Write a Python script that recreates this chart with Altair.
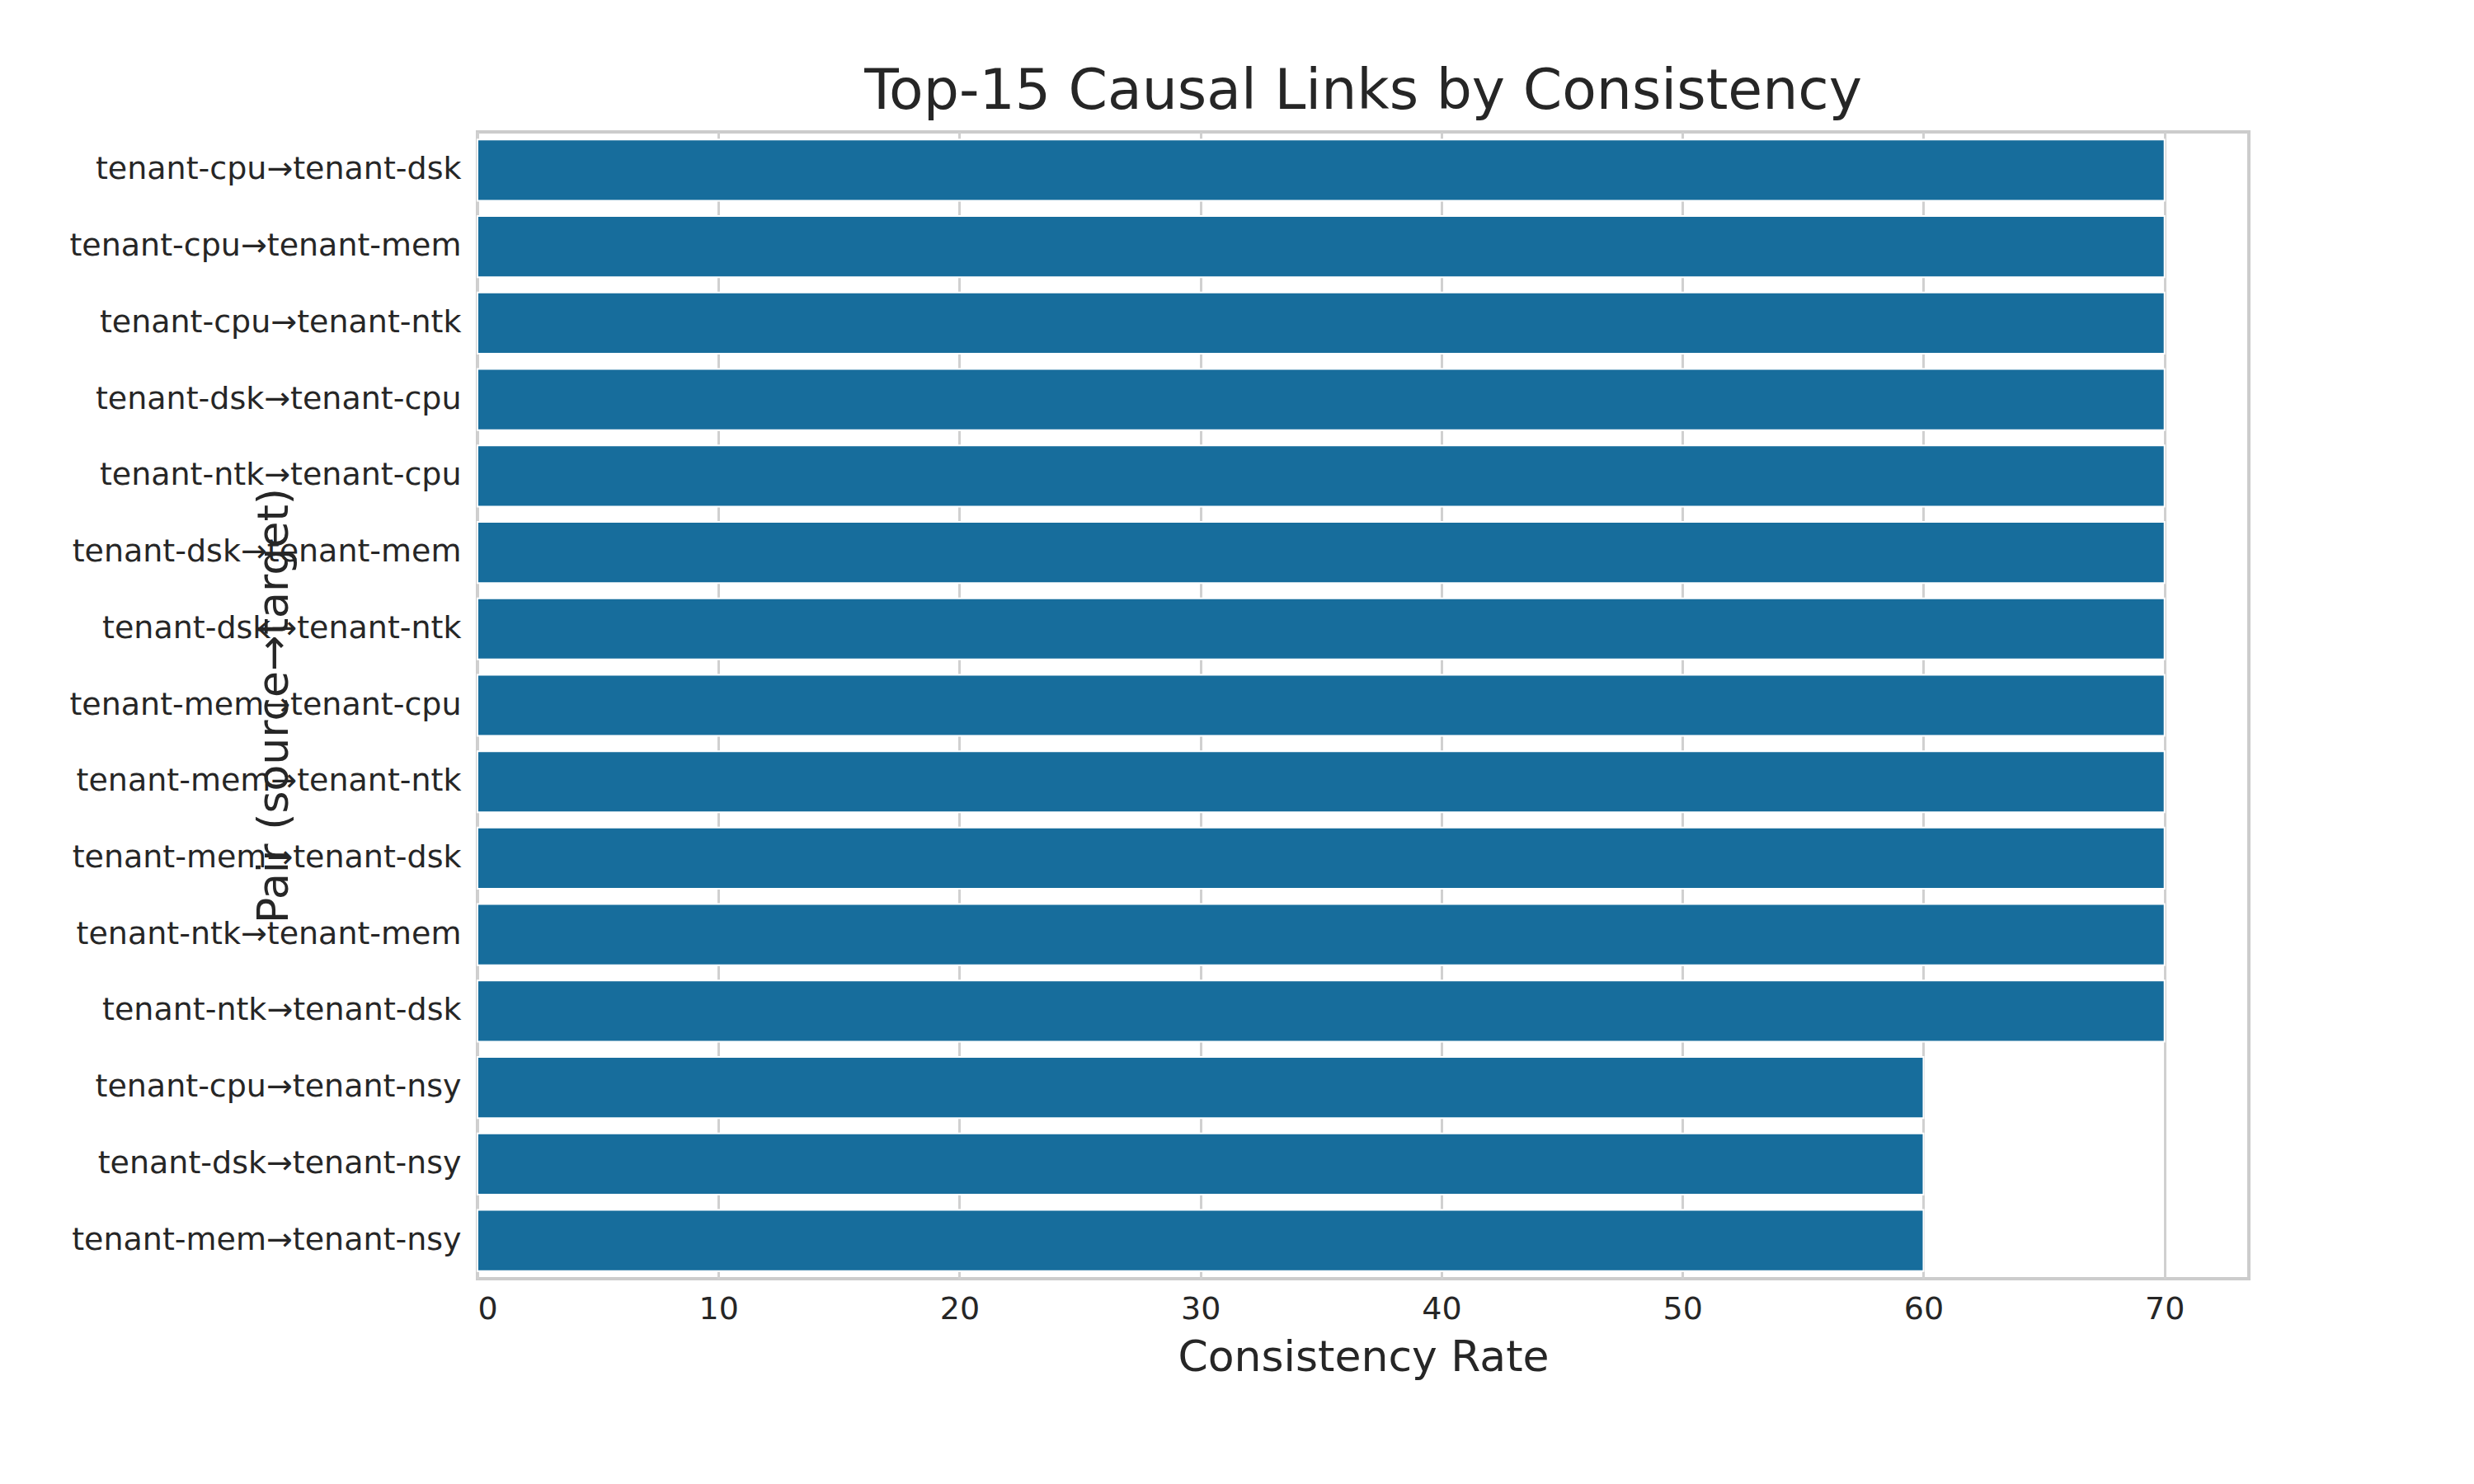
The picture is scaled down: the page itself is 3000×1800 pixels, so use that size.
import altair as alt
import pandas as pd

pairs = ["tenant-cpu→tenant-dsk","tenant-cpu→tenant-mem","tenant-cpu→tenant-ntk","tenant-dsk→tenant-cpu",
         "tenant-ntk→tenant-cpu","tenant-dsk→tenant-mem","tenant-dsk→tenant-ntk","tenant-mem→tenant-cpu",
         "tenant-mem→tenant-ntk","tenant-mem→tenant-dsk","tenant-ntk→tenant-mem","tenant-ntk→tenant-dsk",
         "tenant-cpu→tenant-nsy","tenant-dsk→tenant-nsy","tenant-mem→tenant-nsy"]
rates = [70]*12 + [60]*3
df = pd.DataFrame({"pair": pairs, "rate": rates})

chart = alt.Chart(df).mark_bar(color="#176d9c", stroke="white", strokeWidth=2).encode(
    x=alt.X("rate:Q", title="Consistency Rate", scale=alt.Scale(domain=[0, 73.5], nice=False),
            axis=alt.Axis(values=[0,10,20,30,40,50,60,70], grid=True, gridColor="#d0d0d0", gridWidth=3,
                          ticks=False, domain=False, labelFontSize=38, titleFontSize=52,
                          labelPadding=18, titlePadding=14, labelColor="#262626", titleColor="#262626",
                          titleFontWeight="normal")),
    y=alt.Y("pair:N", sort=pairs, title="Pair (source→target)",
            scale=alt.Scale(paddingInner=0.2, paddingOuter=0.1),
            axis=alt.Axis(ticks=False, domain=False, labelFontSize=38, titleFontSize=52, labelPadding=20,
                          labelLimit=0, titlePadding=20, labelColor="#262626", titleColor="#262626",
                          titleFontWeight="normal")),
).properties(
    width=2148, height=1391,
    padding={"left": 75, "top": 70, "right": 10, "bottom": 10},
    title=alt.TitleParams("Top-15 Causal Links by Consistency", fontSize=68, fontWeight="normal", color="#262626", offset=14),
).configure(font="DejaVu Sans").configure_view(stroke="#cccccc", strokeWidth=4)

chart.save("out.html", embed_options={"renderer": "svg", "actions": False})
